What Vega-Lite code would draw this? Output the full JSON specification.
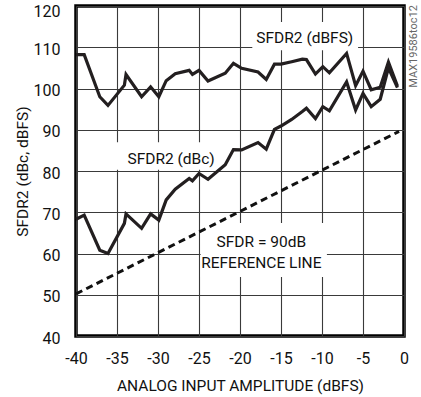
{
  "$schema": "https://vega.github.io/schema/vega-lite/v6.json",
  "width": 328,
  "height": 330,
  "autosize": {"type": "none"},
  "padding": {"left": 76, "top": 6, "right": 17, "bottom": 61},
  "background": "white",
  "config": {
    "view": {"stroke": "#000", "strokeWidth": 3.5},
    "font": "Roboto",
    "axis": {
      "labelFont": "Roboto",
      "titleFont": "Roboto",
      "labelFontSize": 16,
      "titleFontSize": 15.5,
      "titleFontWeight": "normal",
      "labelColor": "#111",
      "titleColor": "#111",
      "gridColor": "#3a3a3a",
      "gridWidth": 1.1,
      "gridOpacity": 1,
      "ticks": false,
      "tickSize": 0,
      "domain": false
    }
  },
  "datasets": {
    "curves": [
      {"amp": -40, "sfdr": 108.2, "series": "dBFS"},
      {"amp": -39.0, "sfdr": 108.2, "series": "dBFS"},
      {"amp": -37.1, "sfdr": 98.0, "series": "dBFS"},
      {"amp": -36.1, "sfdr": 95.9, "series": "dBFS"},
      {"amp": -34.1, "sfdr": 100.8, "series": "dBFS"},
      {"amp": -33.9, "sfdr": 103.4, "series": "dBFS"},
      {"amp": -32.0, "sfdr": 98.0, "series": "dBFS"},
      {"amp": -30.9, "sfdr": 100.4, "series": "dBFS"},
      {"amp": -29.9, "sfdr": 98.0, "series": "dBFS"},
      {"amp": -29.0, "sfdr": 101.9, "series": "dBFS"},
      {"amp": -27.9, "sfdr": 103.6, "series": "dBFS"},
      {"amp": -26.2, "sfdr": 104.4, "series": "dBFS"},
      {"amp": -25.8, "sfdr": 103.4, "series": "dBFS"},
      {"amp": -25.0, "sfdr": 104.4, "series": "dBFS"},
      {"amp": -23.9, "sfdr": 101.8, "series": "dBFS"},
      {"amp": -21.8, "sfdr": 103.7, "series": "dBFS"},
      {"amp": -20.8, "sfdr": 106.1, "series": "dBFS"},
      {"amp": -19.8, "sfdr": 104.9, "series": "dBFS"},
      {"amp": -17.8, "sfdr": 104.0, "series": "dBFS"},
      {"amp": -16.8, "sfdr": 102.2, "series": "dBFS"},
      {"amp": -15.8, "sfdr": 105.9, "series": "dBFS"},
      {"amp": -15.0, "sfdr": 105.9, "series": "dBFS"},
      {"amp": -13.7, "sfdr": 106.5, "series": "dBFS"},
      {"amp": -12.4, "sfdr": 107.1, "series": "dBFS"},
      {"amp": -11.9, "sfdr": 107.0, "series": "dBFS"},
      {"amp": -10.8, "sfdr": 103.5, "series": "dBFS"},
      {"amp": -9.9, "sfdr": 105.3, "series": "dBFS"},
      {"amp": -9.1, "sfdr": 103.8, "series": "dBFS"},
      {"amp": -7.0, "sfdr": 108.5, "series": "dBFS"},
      {"amp": -5.9, "sfdr": 100.7, "series": "dBFS"},
      {"amp": -5.0, "sfdr": 104.2, "series": "dBFS"},
      {"amp": -4.0, "sfdr": 99.7, "series": "dBFS"},
      {"amp": -2.9, "sfdr": 100.3, "series": "dBFS"},
      {"amp": -1.9, "sfdr": 106.4, "series": "dBFS"},
      {"amp": -0.8, "sfdr": 100.6, "series": "dBFS"},
      {"amp": -40, "sfdr": 68.3, "series": "dBc"},
      {"amp": -39.0, "sfdr": 69.3, "series": "dBc"},
      {"amp": -37.1, "sfdr": 60.8, "series": "dBc"},
      {"amp": -36.1, "sfdr": 60.0, "series": "dBc"},
      {"amp": -34.1, "sfdr": 67.3, "series": "dBc"},
      {"amp": -33.9, "sfdr": 69.6, "series": "dBc"},
      {"amp": -32.0, "sfdr": 66.1, "series": "dBc"},
      {"amp": -30.9, "sfdr": 69.6, "series": "dBc"},
      {"amp": -29.9, "sfdr": 68.1, "series": "dBc"},
      {"amp": -29.0, "sfdr": 73.0, "series": "dBc"},
      {"amp": -27.9, "sfdr": 75.6, "series": "dBc"},
      {"amp": -26.2, "sfdr": 78.2, "series": "dBc"},
      {"amp": -25.8, "sfdr": 77.6, "series": "dBc"},
      {"amp": -25.0, "sfdr": 79.4, "series": "dBc"},
      {"amp": -23.9, "sfdr": 78.0, "series": "dBc"},
      {"amp": -21.8, "sfdr": 81.5, "series": "dBc"},
      {"amp": -20.8, "sfdr": 85.2, "series": "dBc"},
      {"amp": -19.8, "sfdr": 85.1, "series": "dBc"},
      {"amp": -17.8, "sfdr": 86.9, "series": "dBc"},
      {"amp": -16.8, "sfdr": 85.3, "series": "dBc"},
      {"amp": -15.8, "sfdr": 90.1, "series": "dBc"},
      {"amp": -15.0, "sfdr": 90.9, "series": "dBc"},
      {"amp": -13.7, "sfdr": 92.5, "series": "dBc"},
      {"amp": -12.4, "sfdr": 94.4, "series": "dBc"},
      {"amp": -11.9, "sfdr": 95.2, "series": "dBc"},
      {"amp": -10.8, "sfdr": 92.7, "series": "dBc"},
      {"amp": -9.9, "sfdr": 95.6, "series": "dBc"},
      {"amp": -9.1, "sfdr": 94.6, "series": "dBc"},
      {"amp": -7.0, "sfdr": 101.6, "series": "dBc"},
      {"amp": -5.9, "sfdr": 94.8, "series": "dBc"},
      {"amp": -5.0, "sfdr": 98.8, "series": "dBc"},
      {"amp": -4.0, "sfdr": 95.6, "series": "dBc"},
      {"amp": -2.9, "sfdr": 97.4, "series": "dBc"},
      {"amp": -1.9, "sfdr": 105.0, "series": "dBc"},
      {"amp": -0.8, "sfdr": 100.2, "series": "dBc"}
    ],
    "ref": [
      {"amp": -40, "sfdr": 50.2},
      {"amp": -0.6, "sfdr": 89.6}
    ],
    "masks": [
      {"a1": -18.5, "a2": -5.6, "s1": 116.1, "s2": 109.3},
      {"a1": -35.6, "a2": -22.2, "s1": 87.0, "s2": 80.3},
      {"a1": -24.8, "a2": -9.4, "s1": 67.4, "s2": 54.3}
    ],
    "labels": [
      {"amp": -12.1, "sfdr": 111.0, "text": "SFDR2 (dBFS)"},
      {"amp": -28.4, "sfdr": 81.7, "text": "SFDR2 (dBc)"},
      {"amp": -17.4, "sfdr": 61.65, "text": "SFDR = 90dB"},
      {"amp": -17.4, "sfdr": 56.5, "text": "REFERENCE LINE"}
    ],
    "tag": [
      {"amp": 1.2, "sfdr": 110.2, "text": "MAX19586toc12"}
    ]
  },
  "layer": [
    {
      "data": {"name": "masks"},
      "mark": {"type": "rect", "fill": "white", "stroke": null},
      "encoding": {
        "x": {"field": "a1", "type": "quantitative",
          "scale": {"domain": [-40, 0], "nice": false, "zero": false},
          "axis": {
            "values": [-40, -35, -30, -25, -20, -15, -10, -5, 0],
            "grid": true,
            "labelFlush": false,
            "labelOverlap": false,
            "labelPadding": 14,
            "labelExpr": "(datum.value < 0 ? '-' : '') + abs(datum.value)",
            "title": "ANALOG INPUT AMPLITUDE (dBFS)",
            "titleY": 54,
            "titleX": 164,
            "titleAlign": "center",
            "titleBaseline": "alphabetic"
          }
        },
        "x2": {"field": "a2"},
        "y": {"field": "s1", "type": "quantitative",
          "scale": {"domain": [40, 120], "nice": false, "zero": false},
          "axis": {
            "values": [40, 50, 60, 70, 80, 90, 100, 110, 120],
            "grid": true,
            "labelFlush": false,
            "labelOverlap": false,
            "labelPadding": 16,
            "labelOffset": {"condition": {"test": "datum.value == 120", "value": 5}, "value": 2},
            "title": "SFDR2 (dBc, dBFS)",
            "titleAngle": 270,
            "titleX": -49,
            "titleY": 165,
            "titleAlign": "center",
            "titleBaseline": "alphabetic"
          }
        },
        "y2": {"field": "s2"}
      }
    },
    {
      "data": {"name": "ref"},
      "mark": {"type": "line", "color": "#111", "strokeWidth": 3, "strokeDash": [7, 4.5], "strokeCap": "butt"},
      "encoding": {
        "x": {"field": "amp", "type": "quantitative"},
        "y": {"field": "sfdr", "type": "quantitative"}
      }
    },
    {
      "data": {"name": "curves"},
      "mark": {"type": "line", "color": "#231f20", "strokeWidth": 3.2, "strokeJoin": "miter"},
      "encoding": {
        "x": {"field": "amp", "type": "quantitative"},
        "y": {"field": "sfdr", "type": "quantitative"},
        "detail": {"field": "series"}
      }
    },
    {
      "data": {"name": "labels"},
      "mark": {"type": "text", "font": "Roboto", "fontSize": 15.5, "color": "#111", "align": "center", "baseline": "alphabetic"},
      "encoding": {
        "x": {"field": "amp", "type": "quantitative"},
        "y": {"field": "sfdr", "type": "quantitative"},
        "text": {"field": "text"}
      }
    },
    {
      "data": {"name": "tag"},
      "mark": {"type": "text", "font": "Roboto", "fontSize": 11, "color": "#666", "align": "center", "baseline": "middle", "angle": 270},
      "encoding": {
        "x": {"field": "amp", "type": "quantitative"},
        "y": {"field": "sfdr", "type": "quantitative"},
        "text": {"field": "text"}
      }
    }
  ]
}
